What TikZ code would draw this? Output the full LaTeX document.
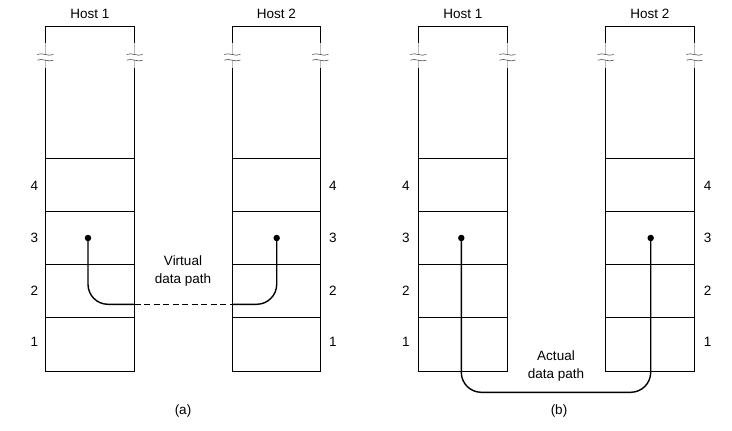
\documentclass[tikz,border=0pt]{standalone}
\usepackage{fontspec}
\setmainfont{Liberation Sans}
\usetikzlibrary{calc}
\tikzset{
  txt/.style={font=\fontsize{13.5}{18}\selectfont, inner sep=0pt, align=center},
  layerbox/.style={draw, line width=0.9pt, minimum height=53.2pt, inner sep=0pt},
  topbox/.style={draw, line width=0.9pt, minimum height=132pt, inner sep=0pt},
  dot/.style={circle, fill=black, minimum size=6.5pt, inner sep=0pt},
  conn/.style={line width=1.4pt, rounded corners=20pt},
  dashconn/.style={line width=1.4pt, dash pattern=on 6pt off 3.5pt},
  brkgray/.style={draw=gray!55, line width=1pt},
  brkwave/.style={line width=0.6pt, draw=black!70}
}
\newcommand\brkmark[1]{%
  \draw[brkgray] ($(#1)+(0,-14)$) -- ($(#1)+(0,11)$);
  \fill[white] ($(#1)+(-1.5,-2.7)$) rectangle ($(#1)+(1.5,3)$);
  \draw[brkwave] ($(#1)+(-8,-2.5)$) .. controls ($(#1)+(-3,-5)$) and ($(#1)+(3,0)$) .. ($(#1)+(8,-2.5)$);
  \draw[brkwave] ($(#1)+(-8,3.2)$) .. controls ($(#1)+(-3,0.7)$) and ($(#1)+(3,5.7)$) .. ($(#1)+(8,3.2)$);
}
\newcommand\hostcol[4]{% #1 name, #2 left, #3 right, #4 label
  \node[txt] (#1lab) at ({(#2+#3)/2},14) {#4};
  \node[topbox, minimum width={#3-#2}] (#1top) at ({(#2+#3)/2},92.3) {};
  \node[layerbox, minimum width={#3-#2}] (#1L4) at ({(#2+#3)/2},184.9) {};
  \node[layerbox, minimum width={#3-#2}] (#1L3) at ({(#2+#3)/2},238.1) {};
  \node[layerbox, minimum width={#3-#2}] (#1L2) at ({(#2+#3)/2},291.3) {};
  \node[layerbox, minimum width={#3-#2}] (#1L1) at ({(#2+#3)/2},344.5) {};
  \coordinate (#1bl) at (#2,57);
  \coordinate (#1br) at (#3,57);
  \brkmark{#1bl}
  \brkmark{#1br}
}
\begin{document}
\begin{tikzpicture}[x=1pt,y=-1pt]
\useasboundingbox (0,0) rectangle (732,431);
% (a)
\hostcol{aA}{45.3}{134.7}{Host 1}
\hostcol{aB}{232.3}{320.3}{Host 2}
% (b)
\hostcol{bA}{418.3}{507.3}{Host 1}
\hostcol{bB}{605.7}{694.3}{Host 2}
% layer numbers
\foreach \n/\y in {4/185.7,3/238,2/291,1/342}{
  \node[txt] (aln\n) at (34.3,\y) {\n};
  \node[txt] (arn\n) at (333,\y) {\n};
  \node[txt] (bln\n) at (406,\y) {\n};
  \node[txt] (brn\n) at (707.7,\y) {\n};
}
% (a) virtual path
\node[dot] (ad1) at (88,238) {};
\node[dot] (ad2) at (276.7,238) {};
\coordinate (ae1) at (134.7,304.3);
\coordinate (ae2) at (232.3,304.3);
\draw[conn] (ad1.center) |- (ae1);
\draw[dashconn] (ae1) -- (ae2);
\draw[conn] (ae2) -| (ad2.center);
\node[txt] (vlab) at (183,271.5) {Virtual\\data path};
\node[txt] (alab) at (183,411.5) {(a)};
% (b) actual path
\node[dot] (bd1) at (461.3,238) {};
\node[dot] (bd2) at (650.7,238) {};
\coordinate (bm) at (556,392.3);
\draw[conn] (bd1.center) |- (bm) -| (bd2.center);
\node[txt] (alab2) at (556,366.5) {Actual\\data path};
\node[txt] (blab) at (559,411) {(b)};
\end{tikzpicture}
\end{document}
